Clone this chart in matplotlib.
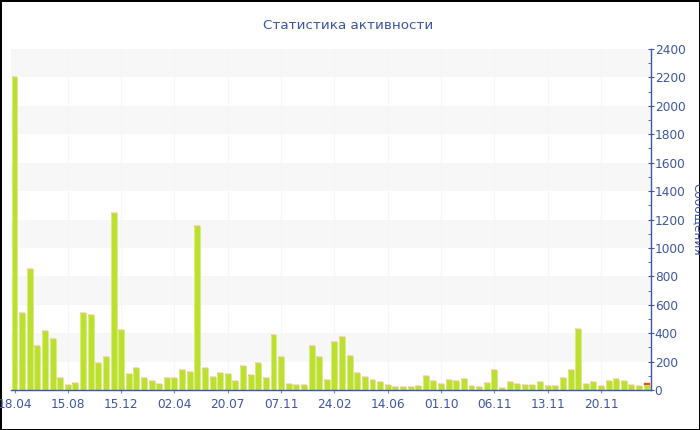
import matplotlib
matplotlib.use("Agg")
import matplotlib.pyplot as plt
from matplotlib.ticker import MultipleLocator

# message counts per period (green) and the small second series (red, only last bar)
messages = [
    2200, 540, 850, 310, 415, 357, 84, 37, 49, 539,
    530, 187, 230, 1245, 422, 115, 157, 87, 63, 40,
    87, 87, 141, 129, 1152, 157, 94, 122, 115, 61,
    169, 106, 190, 82, 390, 230, 42, 38, 35, 312,
    230, 68, 335, 373, 237, 117, 92, 70, 59, 35,
    23, 19, 23, 30, 99, 61, 40, 70, 63, 75,
    30, 21, 49, 141, 14, 54, 40, 35, 33, 54,
    28, 26, 84, 141, 427, 40, 56, 28, 63, 75,
    65, 33, 26, 36,
]
other = [0] * 83 + [12]
tick_labels = ["18.04", "15.08", "15.12", "02.04", "20.07", "07.11",
               "24.02", "14.06", "01.10", "06.11", "13.11", "20.11"]
tick_step = 7

text_color = "#3d56a0"
green = "#bde030"
red = "#e8502a"

plt.rcParams["font.family"] = ["DejaVu Sans"]

fig = plt.figure(figsize=(7, 4.3), dpi=100)
fig.patch.set_facecolor("white")
fig.patch.set_edgecolor("black")
fig.patch.set_linewidth(2)

ax = fig.add_axes([0.0153, 0.093, 0.914, 0.793])

x = list(range(len(messages)))
for lo in range(200, 2400, 400):
    ax.axhspan(lo, lo + 200, color="#f7f7f7", zorder=0, lw=0)

ax.bar(x, messages, width=0.78, color=green, edgecolor="#d6ee80", linewidth=0.6, zorder=2)
ax.bar(x, other, bottom=messages, width=0.78, color=red, edgecolor=red, linewidth=0.3, zorder=2)

ax.set_xlim(-0.5, len(messages) - 0.5)
ax.set_ylim(0, 2400)

ticks = list(range(0, len(messages), tick_step))[: len(tick_labels)]
ax.set_xticks(ticks)
ax.set_xticklabels(tick_labels)
for t in ticks:
    ax.axvline(t, color="#f6f6f6", lw=0.8, zorder=1)

ax.yaxis.tick_right()
ax.yaxis.set_major_locator(MultipleLocator(200))
ax.yaxis.set_minor_locator(MultipleLocator(100))

for side in ("left", "top"):
    ax.spines[side].set_visible(False)
for side in ("right", "bottom"):
    ax.spines[side].set_color(text_color)
    ax.spines[side].set_linewidth(1.0)

ax.tick_params(axis="y", which="major", direction="inout", length=4,
               color=text_color, labelcolor=text_color, labelsize=8.7, pad=1)
ax.tick_params(axis="y", which="minor", direction="in", length=2.5, color=text_color)
ax.tick_params(axis="x", which="major", direction="out", length=2.5,
               color="#7a8ab8", labelcolor=text_color, labelsize=8.7, pad=3)

fig.text(0.497, 0.94, "Статистика активности", ha="center", va="center",
         color=text_color, fontsize=9.7)
fig.text(0.988, 0.49, "Сообщения", rotation=270, ha="left", va="center",
         color=text_color, fontsize=8.7)

fig.savefig("out.png", dpi=100)
